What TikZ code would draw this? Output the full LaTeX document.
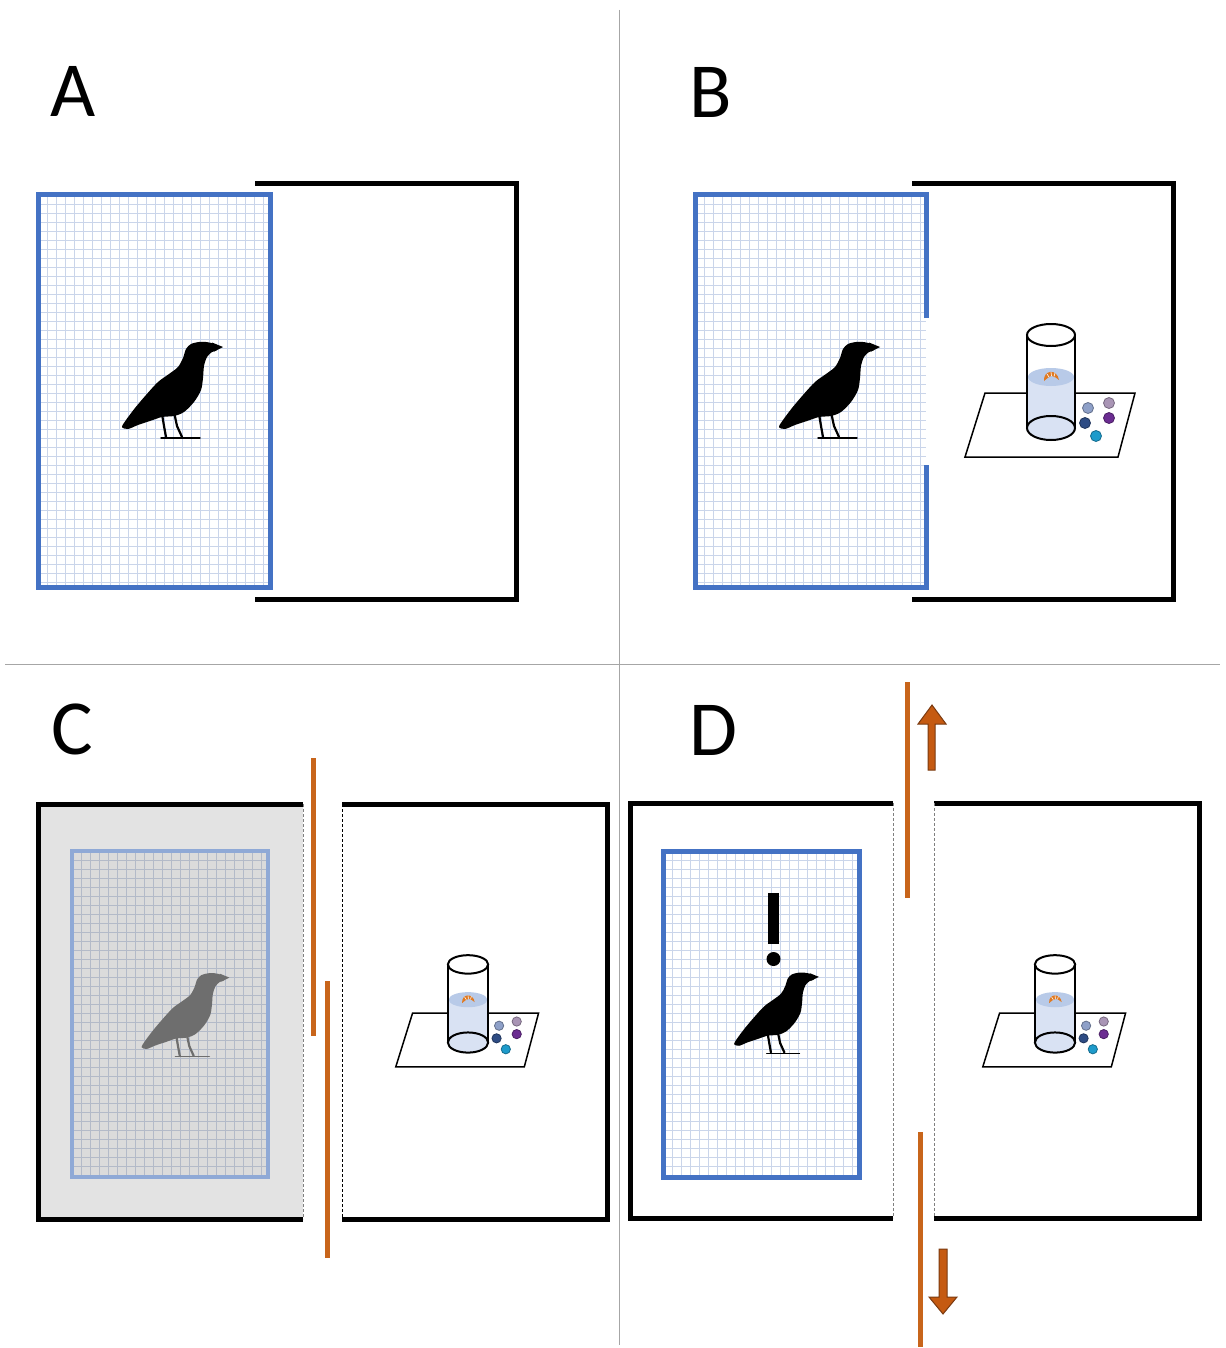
\documentclass[tikz,border=0pt]{standalone}
\usepackage{fontspec}
\newfontfamily\labelfont{Carlito}
\begin{document}
\definecolor{cageblue}{HTML}{4472C4}
\definecolor{cagefaded}{HTML}{8FA9D6}
\definecolor{gridblue}{HTML}{CAD5EA}
\definecolor{gridgray}{HTML}{B3BAC8}
\definecolor{panelgray}{HTML}{E3E3E3}
\definecolor{cagegray}{HTML}{DBDBDB}
\definecolor{barorange}{HTML}{C8651B}
\definecolor{arroworange}{HTML}{C55A11}
\definecolor{arrowedge}{HTML}{7A3A10}
\definecolor{crowgray}{HTML}{6E6E6E}
\definecolor{divider}{HTML}{A6A6A6}
\definecolor{waterblue}{HTML}{B8CAE8}
\definecolor{glassblue}{HTML}{D9E2F3}
\definecolor{croissant}{HTML}{E07A22}
\definecolor{stoneA}{HTML}{8EA0C8}
\definecolor{stoneB}{HTML}{A995B5}
\definecolor{stoneC}{HTML}{2E4C84}
\definecolor{stoneD}{HTML}{6B2C91}
\definecolor{stoneE}{HTML}{1E9BCB}
\begin{tikzpicture}[x=1pt,y=-1pt,
  wall/.style={line width=5pt,line join=miter,line cap=butt,black},
  cageline/.style={line width=5pt,line join=miter,cageblue},
  openside/.style={dashed,line width=1pt,dash pattern=on 3pt off 2pt},
  divline/.style={line width=1pt,divider},
  shutter/.style={line width=5pt,barorange},
  blockarrow/.style={fill=arroworange,draw=arrowedge,line width=1pt,line join=miter},
  panellabel/.style={inner sep=0pt,font=\labelfont\fontsize{78}{80}\selectfont},
  stone/.style={draw=#1!70!black,fill=#1,line width=0.8pt},
  crow/.pic={
    \fill plot[smooth cycle,tension=0.5] coordinates {
      (42,-46) (34,-48) (27,-48) (19,-46) (14,-41) (11,-32) (6,-23)
      (-3,-16) (-14,-8) (-26,5) (-37,18) (-46,30) (-50,37) (-44,39)
      (-34,35) (-22,31) (-10,27) (2,26) (12,22) (22,12) (29,0)
      (31,-12) (32,-24) (35,-33) (40,-38) (45,-40)};
    \fill (51,-43) -- (40,-47.5) -- (42,-38.5) -- cycle;
    \draw[line width=2.2pt,line cap=round] (-10,24) -- (-8,36) -- (-6,47);
    \draw[line width=2.2pt,line cap=round] (2,22) -- (5,36) -- (10,47);
    \draw[line width=1.4pt,line cap=round] (-11,48) -- (8,48);
    \draw[line width=1.4pt,line cap=round] (3,48) -- (28,48);
  },
  tube/.pic={
    % platform
    \draw[line width=1.5pt,fill=white,line join=miter] (-86,32) -- (-66,-32) -- (84,-32) -- (67,32) -- cycle;
    % pebbles
    \path[stone=stoneA] (37,-17) circle[radius=5.5];
    \path[stone=stoneB] (58,-22) circle[radius=5.5];
    \path[stone=stoneC] (34,-2) circle[radius=5.5];
    \path[stone=stoneD] (58,-7) circle[radius=5.5];
    \path[stone=stoneE] (45,11) circle[radius=5.5];
    % glass tube with water and the reward
    \fill[white] (-24,-90) rectangle (24,-48);
    \fill[glassblue] (-24,-48) rectangle (24,3);
    \fill[glassblue] (0,3) ellipse[x radius=24,y radius=12];
    \fill[waterblue] (0,-48) ellipse[x radius=23,y radius=9];
    \fill[croissant] (-7,-44) .. controls (-8,-55) and (6,-57) .. (8,-45)
      .. controls (6,-46) and (4,-49) .. (1,-49) .. controls (-2,-49) and (-4,-46) .. cycle;
    \draw[white,line width=0.6pt] (-4,-51) -- (-2,-48) (0,-53) -- (0.5,-49) (4,-52) -- (3,-48.5);
    \draw[line width=2pt] (-24,-90) -- (-24,3) (24,-90) -- (24,3);
    \draw[line width=2pt] (0,-90) ellipse[x radius=24,y radius=11];
    \draw[line width=2pt] (0,3) ellipse[x radius=24,y radius=12];
  }]
% mesh cage: corners, fill colour, mesh colour
\newcommand\meshcage[6]{%
  \fill[#5] (#1,#2) rectangle (#3,#4);
  \pgfmathtruncatemacro\meshnx{(#3-#1)/9}%
  \pgfmathtruncatemacro\meshny{(#4-#2)/9}%
  \foreach \i in {1,...,\meshnx} \draw[#6,line width=0.7pt] ({#1+\i*9},#2) -- ({#1+\i*9},#4);
  \foreach \j in {1,...,\meshny} \draw[#6,line width=0.7pt] (#1,{#2+\j*9}) -- (#3,{#2+\j*9});
}
\useasboundingbox (0,0) rectangle (1225,1348);
\fill[white] (0,0) rectangle (1225,1348);

% quadrant dividers
\draw[divline] (619,10) -- (619,1345);
\draw[divline] (5,664) -- (1220,664);

% ---------- A ----------
\node[panellabel] (labA) at (73,91) {A};
\meshcage{38}{195}{270}{587}{white}{gridblue}
\draw[cageline] (38,195) rectangle (270,587);
\draw[wall] (255,184) -- (516,184) -- (516,599) -- (255,599);
\pic[black] (crowA) at (172,390) {crow};

% ---------- B ----------
\node[panellabel] (labB) at (711,92) {B};
\meshcage{695}{195}{926}{587}{white}{gridblue}
\draw[cageline] (926,318) -- (926,195) -- (695,195) -- (695,587) -- (926,587) -- (926,465);
\draw[wall] (912,184) -- (1173,184) -- (1173,599) -- (912,599);
\pic[black] (crowB) at (829,390) {crow};
\pic (tubeB) at (1051,425) {tube};

% ---------- C ----------
\node[panellabel] (labC) at (72,729) {C};
\fill[panelgray] (38,804) rectangle (303,1219);
\meshcage{72}{851}{268}{1177}{cagegray}{gridgray}
\draw[line width=4pt,cagefaded,line join=miter] (72,851) rectangle (268,1177);
\pic[crowgray,scale=0.87] (crowC) at (185,1015) {crow};
\draw[wall] (303,804) -- (38,804) -- (38,1219) -- (303,1219);
\draw[openside,gray] (303,804) -- (303,1219);
\draw[wall] (342,804) -- (607,804) -- (607,1219) -- (342,1219);
\draw[openside,black] (342,804) -- (342,1219);
\pic[scale=0.84] (tubeC) at (468,1040) {tube};
\draw[shutter] (313,758) -- (313,1036);
\draw[shutter] (327,981) -- (327,1258);

% ---------- D ----------
\node[panellabel] (labD) at (713,730) {D};
\meshcage{663}{851}{859}{1177}{white}{gridblue}
\draw[cageline] (663,851) rectangle (859,1177);
\fill[black] (768,893) rectangle (779,944);
\fill[black] (773.5,959) circle[radius=7];
\pic[black,scale=0.84] (crowD) at (776,1013) {crow};
\draw[wall] (893,803) -- (630,803) -- (630,1218) -- (893,1218);
\draw[openside,gray] (893,803) -- (893,1218);
\draw[wall] (934,803) -- (1199,803) -- (1199,1218) -- (934,1218);
\draw[openside,gray] (934,803) -- (934,1218);
\pic[scale=0.84] (tubeD) at (1055,1040) {tube};
\draw[shutter] (907,682) -- (907,898);
\draw[shutter] (920,1132) -- (920,1347);
\draw[blockarrow] (928,770) -- (928,724) -- (918,724) -- (932,705) -- (946,724) -- (935,724) -- (935,770) -- cycle;
\draw[blockarrow] (939,1249) -- (939,1297) -- (929,1297) -- (943,1314) -- (957,1297) -- (947,1297) -- (947,1249) -- cycle;
\end{tikzpicture}
\end{document}
